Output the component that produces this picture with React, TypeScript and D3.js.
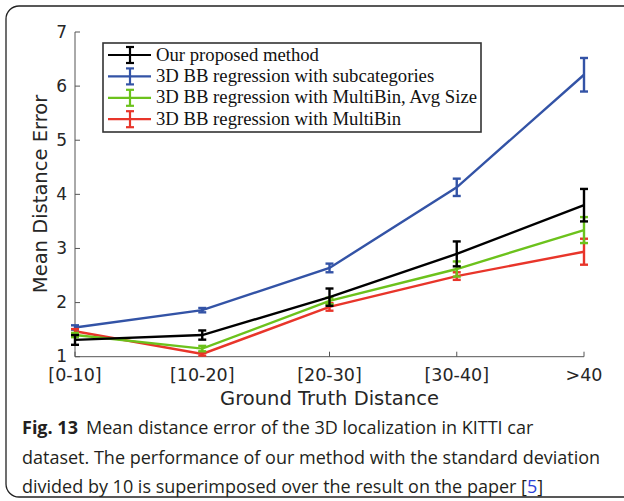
import React from "react";
import * as d3 from "d3";

const categories = ["[0-10]", "[10-20]", "[20-30]", "[30-40]", ">40"];
const yTicks = [1, 2, 3, 4, 5, 6, 7];

const seriesNames = [
  "Our proposed method",
  "3D BB regression with subcategories",
  "3D BB regression with MultiBin, Avg Size",
  "3D BB regression with MultiBin",
];
const seriesColors = ["#000000", "#3353a6", "#6cc21c", "#e8352a"];

const oursMean = [1.31, 1.4, 2.1, 2.9, 3.8];
const oursErr = [0.09, 0.085, 0.16, 0.23, 0.3];
const subcatMean = [1.54, 1.86, 2.64, 4.13, 6.21];
const subcatErr = [0.04, 0.04, 0.08, 0.16, 0.31];
const avgSizeMean = [1.4, 1.15, 2.03, 2.62, 3.34];
const avgSizeErr = [0.04, 0.05, 0.06, 0.14, 0.24];
const multiBinMean = [1.47, 1.05, 1.92, 2.49, 2.94];
const multiBinErr = [0.04, 0.03, 0.07, 0.07, 0.24];

const captionLines = [
  "Mean distance error of the 3D localization in KITTI car",
  "dataset. The performance of our method with the standard deviation",
  "divided by 10 is superimposed over the result on the paper [",
];

export default function App() {
  const x = d3.scalePoint<string>().domain(categories).range([75, 584]).padding(0);
  const y = d3.scaleLinear().domain([1, 7]).range([356.7, 32]);
  const line = d3
    .line<number>()
    .x((_, i) => x(categories[i]) as number)
    .y((d) => y(d));

  const series = [
    { mean: subcatMean, err: subcatErr, color: seriesColors[1] },
    { mean: multiBinMean, err: multiBinErr, color: seriesColors[3] },
    { mean: avgSizeMean, err: avgSizeErr, color: seriesColors[2] },
    { mean: oursMean, err: oursErr, color: seriesColors[0] },
  ];
  const cap = 4;
  const axisColor = "#555";
  const tickFont = "'DejaVu Sans', sans-serif";
  const x0 = 75;
  const yBottom = y(1);
  const yTop = y(7);

  return (
    <svg width={624} height={501} style={{ position: "absolute", left: 0, top: 0, background: "#fff" }}>
      <rect x={6} y={6} width={650} height={491} rx={13} fill="#fff" stroke="#222" strokeWidth={1.3} />

      {/* axes */}
      <line x1={x0} x2={x0} y1={yTop} y2={yBottom} stroke={axisColor} strokeWidth={1} />
      <line x1={x0} x2={584} y1={yBottom} y2={yBottom} stroke={axisColor} strokeWidth={1} />
      {yTicks.map((t) => (
        <g key={"y" + t}>
          <line x1={x0} x2={x0 + 5} y1={y(t)} y2={y(t)} stroke={axisColor} />
          <text x={67} y={y(t) + 5.5} textAnchor="end" fontFamily={tickFont} fontSize={17} fill="#262626">
            {t}
          </text>
        </g>
      ))}
      {categories.map((c) => (
        <g key={c}>
          <line x1={x(c)} x2={x(c)} y1={yBottom} y2={yBottom - 5} stroke={axisColor} />
          <text x={x(c)} y={381} textAnchor="middle" fontFamily={tickFont} fontSize={17.5} fill="#262626">
            {c}
          </text>
        </g>
      ))}
      <text x={329.5} y={405} textAnchor="middle" fontFamily={tickFont} fontSize={19.5} fill="#262626">
        Ground Truth Distance
      </text>
      <text
        transform={`translate(47,194) rotate(-90)`}
        textAnchor="middle"
        fontFamily={tickFont}
        fontSize={19.5}
        fill="#262626"
      >
        Mean Distance Error
      </text>

      {/* series */}
      {series.map((s, si) => (
        <g key={si}>
          <path d={line(s.mean) || ""} fill="none" stroke={s.color} strokeWidth={2.4} />
          {s.mean.map((m, i) => {
            const cx = x(categories[i]) as number;
            const y1 = y(m + s.err[i]);
            const y2 = y(m - s.err[i]);
            return (
              <g key={i} stroke={s.color} strokeWidth={2.4}>
                <line x1={cx} x2={cx} y1={y1} y2={y2} />
                <line x1={cx - cap} x2={cx + cap} y1={y1} y2={y1} />
                <line x1={cx - cap} x2={cx + cap} y1={y2} y2={y2} />
              </g>
            );
          })}
        </g>
      ))}

      {/* legend */}
      <rect x={103} y={43} width={378} height={89} fill="#fff" stroke="#333" strokeWidth={1.6} />
      {seriesNames.map((n, i) => {
        const ly = 55 + i * 21.4;
        const c = seriesColors[i];
        return (
          <g key={n}>
            <line x1={108} x2={151} y1={ly} y2={ly} stroke={c} strokeWidth={2.2} />
            <line x1={130} x2={130} y1={ly - 8} y2={ly + 8} stroke={c} strokeWidth={2.2} />
            <line x1={126} x2={134} y1={ly - 8} y2={ly - 8} stroke={c} strokeWidth={2.2} />
            <line x1={126} x2={134} y1={ly + 8} y2={ly + 8} stroke={c} strokeWidth={2.2} />
            <text x={156} y={ly + 5.5} fontFamily="'Liberation Serif', serif" fontSize={18.7} fill="#111">
              {n}
            </text>
          </g>
        );
      })}

      {/* caption */}
      <g fontFamily="'Open Sans', sans-serif" fontSize={18} fill="#231f20">
        <text x={22} y={434}>
          <tspan fontWeight="bold">Fig. 13</tspan>
          <tspan dx={8}>{captionLines[0]}</tspan>
        </text>
        <text x={22} y={463.5}>{captionLines[1]}</text>
        <text x={22} y={493}>
          {captionLines[2]}
          <tspan fill="#2b3fd6">5</tspan>]
        </text>
      </g>
    </svg>
  );
}
